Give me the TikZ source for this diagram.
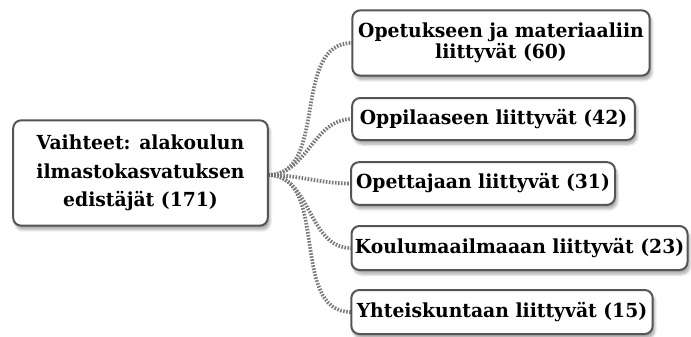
\documentclass[tikz,border=0pt]{standalone}
\usepackage{fontspec}
\setmainfont{DejaVu Serif}[FakeStretch=0.97]
\usetikzlibrary{shadows.blur}
\definecolor{boxline}{HTML}{555555}
\definecolor{linkgray}{HTML}{7A7A7A}
\tikzset{
  topic/.style={draw=boxline, line width=1.5pt, rounded corners=6pt, fill=white,
    blur shadow={shadow xshift=1.5pt, shadow yshift=-3pt, shadow blur steps=6, shadow opacity=35},
    align=center, inner sep=0pt, font=\bfseries\fontsize{14.5}{16}\selectfont},
  link/.style={draw=linkgray, line width=2.8pt, dash pattern=on 1.2pt off 1.1pt}
}
\begin{document}
\begin{tikzpicture}[x=0.75pt,y=-0.75pt]
\useasboundingbox (0,0) rectangle (691,336);
% dotted links from the central topic, drawn first so the boxes cover their ends
\coordinate (hub) at (268,175);
\coordinate (e1) at (352,43);
\coordinate (e2) at (352,119);
\coordinate (e3) at (351,183.5);
\coordinate (e4) at (351,248);
\coordinate (e5) at (351,312);
\draw[link] (hub) to[out=0,in=180] (e1);
\draw[link] (hub) to[out=0,in=180] (e2);
\draw[link] (hub) to[out=0,in=180] (e3);
\draw[link] (hub) to[out=0,in=180] (e4);
\draw[link] (hub) to[out=0,in=180] (e5);
% central topic
\node[topic, minimum width=191pt, minimum height=79pt,
  font=\bfseries\fontsize{14.5}{21.4}\selectfont] (main) at (140.5,173)
  {Vaihteet: alakoulun\\ilmastokasvatuksen\\edistäjät (171)};
% sub-topics
\node[topic, minimum width=223pt, minimum height=49pt] (b1) at (501,43)
  {Opetukseen ja materiaaliin\\liittyvät (60)};
\node[topic, minimum width=212pt, minimum height=31.5pt] (b2) at (493.5,119)
  {Oppilaaseen liittyvät (42)};
\node[topic, minimum width=198pt, minimum height=32pt] (b3) at (483,183.5)
  {Opettajaan liittyvät (31)};
\node[topic, minimum width=252pt, minimum height=33pt] (b4) at (519.5,248)
  {Koulumaailmaaan liittyvät (23)};
\node[topic, minimum width=226pt, minimum height=33pt] (b5) at (502,312)
  {Yhteiskuntaan liittyvät (15)};
\end{tikzpicture}
\end{document}
